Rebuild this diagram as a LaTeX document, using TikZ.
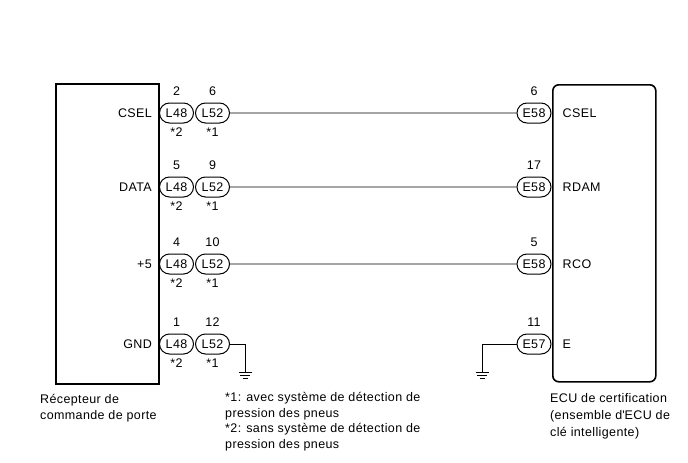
\documentclass[tikz,border=0pt]{standalone}
\usepackage{fontspec}
\setmainfont{Liberation Sans}[LetterSpace=3]
\usetikzlibrary{positioning}
\usetikzlibrary{shapes.misc}

\begin{document}
\begin{tikzpicture}[x=1pt,y=-1pt,every node/.style={font=\fontsize{12.5}{16}\selectfont,inner sep=0pt},
    plug/.style={draw=black,line width=1pt,shape=rounded rectangle,minimum width=34pt,minimum height=20pt},
    pinno/.style={above=6.5pt of #1},
    variant/.style={below=4pt of #1},
    unitbox/.style={draw=black,line width=1.6pt,anchor=north west,minimum width=103pt},
    wire/.style={draw=black,line width=0.8pt},
    note/.style={anchor=north west,align=left}]
    \useasboundingbox (0,0) rectangle (688,463);

    \node (receiver)[unitbox,minimum height=300pt] at (55,83) {};
    \node (ecu)[unitbox,rounded corners=6pt,minimum height=297pt] at (552,84) {};

    \node (csel48) [plug] at (176.5,113) {L48};
    \node (csel52) [plug,right=1pt of csel48] {L52};
    \node (data48) [plug] at (176.5,187) {L48};
    \node (data52) [plug,right=1pt of data48] {L52};
    \node (vcc48) [plug] at (176.5,264) {L48};
    \node (vcc52) [plug,right=1pt of vcc48] {L52};
    \node (gnd48) [plug] at (176.5,344) {L48};
    \node (gnd52) [plug,right=1pt of gnd48] {L52};

    \node (cselE) [plug] at (534,113) {E58};
    \node (rdamE) [plug] at (534,187) {E58};
    \node (rcoE) [plug] at (534,264) {E58};
    \node (eE) [plug] at (534,344) {E57};

    \node (csel48no) [pinno=csel48] {2};
    \node (csel52no) [pinno=csel52] {6};
    \node (data48no) [pinno=data48] {5};
    \node (data52no) [pinno=data52] {9};
    \node (vcc48no) [pinno=vcc48] {4};
    \node (vcc52no) [pinno=vcc52] {10};
    \node (gnd48no) [pinno=gnd48] {1};
    \node (gnd52no) [pinno=gnd52] {12};
    \node (cselEno) [pinno=cselE] {6};
    \node (rdamEno) [pinno=rdamE] {17};
    \node (rcoEno) [pinno=rcoE] {5};
    \node (eEno) [pinno=eE] {11};

    \node (csel48var) [variant=csel48] {*2};
    \node (csel52var) [variant=csel52] {*1};
    \node (data48var) [variant=data48] {*2};
    \node (data52var) [variant=data52] {*1};
    \node (vcc48var) [variant=vcc48] {*2};
    \node (vcc52var) [variant=vcc52] {*1};
    \node (gnd48var) [variant=gnd48] {*2};
    \node (gnd52var) [variant=gnd52] {*1};

    \node (cselL) [left=7pt of csel48] {CSEL};
    \node (dataL) [left=7pt of data48] {DATA};
    \node (vccL) [left=7pt of vcc48] {+5};
    \node (gndL) [left=7pt of gnd48] {GND};
    \node (cselR) [right=11pt of cselE] {CSEL};
    \node (rdamR) [right=11pt of rdamE] {RDAM};
    \node (rcoR) [right=11pt of rcoE] {RCO};
    \node (eR) [right=11pt of eE] {E};

    \path [wire] (csel52) edge (cselE);
    \path [wire] (data52) edge (rdamE);
    \path [wire] (vcc52) edge (rcoE);

    \coordinate (earthL) at (245,372);
    \coordinate (earthR) at (482,372);
    \draw [wire] (gnd52.east) -| (earthL);
    \draw [wire] (eE.west) -| (earthR);
    \draw [wire] (earthL) ++(-6.5,0) -- ++(13,0) (earthL) ++(-5,3) -- ++(10,0) (earthL) ++(-2.5,6) -- ++(5,0);
    \draw [wire] (earthR) ++(-6.5,0) -- ++(13,0) (earthR) ++(-5,3) -- ++(10,0) (earthR) ++(-2.5,6) -- ++(5,0);

    \node (receiverTxt) [note] at (40,394.5) {Récepteur de\\commande de porte};
    \node (noteOne) [note] at (225,392) {*1: avec système de détection de\\pression des pneus};
    \node (noteTwo) [note] at (225,423) {*2: sans système de détection de\\pression des pneus};
    \node (ecuTxt) [note,font=\fontsize{12.5}{17}\selectfont] at (550,393.5) {ECU de certification\\(ensemble d\textquotesingle ECU de\\clé intelligente)};
\end{tikzpicture}
\end{document}
